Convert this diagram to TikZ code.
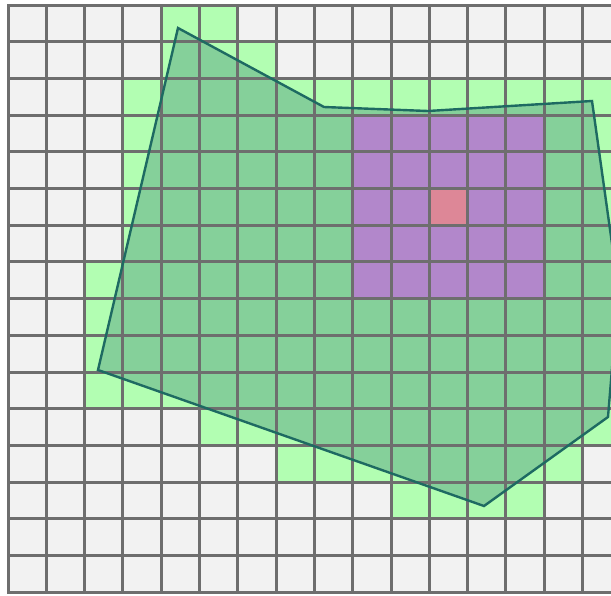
\documentclass[tikz,border=0pt]{standalone}
\definecolor{cellbg}{HTML}{F2F2F2}
\definecolor{lightg}{HTML}{B2FEB2}
\definecolor{polyfill}{HTML}{85D09A}
\definecolor{purp}{HTML}{B287CB}
\definecolor{redc}{HTML}{DD8797}
\definecolor{gridc}{HTML}{6E6E6E}
\definecolor{polyedge}{HTML}{1E6A62}
\tikzset{
  gridline/.style={draw=gridc, line width=3pt, line cap=rect},
  polyline/.style={draw=polyedge, line width=2.4pt, line join=miter},
}
\begin{document}
\begin{tikzpicture}[x=1pt,y=-1pt]
\useasboundingbox (0,0) rectangle (611,595);
\clip (0,0) rectangle (611,595);
\fill[white] (0,0) rectangle (611,595);
\def\cw{38.3}
\def\ch{36.7}
% background cells
\fill[cellbg] (8,5) rectangle ({8+16*\cw},{5+16*\ch});
% cells touched by the polygon
\foreach \r/\a/\b in {0/4/5,1/4/6,2/3/15,3/3/15,4/3/15,5/3/15,6/3/15,7/2/15,8/2/15,9/2/15,10/2/15,11/5/15,12/7/14,13/10/13}{
  \fill[lightg] ({8+\a*\cw},{5+\r*\ch}) rectangle ({8+(\b+1)*\cw},{5+(\r+1)*\ch});
}
% polygon
\coordinate (p1) at (178,28);
\coordinate (p2) at (324,107);
\coordinate (p3) at (428,111);
\coordinate (p4) at (592,101);
\coordinate (p5) at (618.5,290);
\coordinate (p6) at (608,417);
\coordinate (p7) at (484,506);
\coordinate (p8) at (98,370);
\fill[polyfill] (p1) -- (p2) -- (p3) -- (p4) -- (p5) -- (p6) -- (p7) -- (p8) -- cycle;
% purple block and centre cell
\fill[purp] ({8+9*\cw},{5+3*\ch}) rectangle ({8+14*\cw},{5+8*\ch});
\fill[redc] ({8+11*\cw},{5+5*\ch}) rectangle ({8+12*\cw},{5+6*\ch});
% grid lines
\foreach \i in {0,...,16}{
  \draw[gridline] ({8+\i*\cw},5) -- ({8+\i*\cw},{5+16*\ch});
}
\foreach \j in {0,...,16}{
  \draw[gridline] (8,{5+\j*\ch}) -- ({8+16*\cw},{5+\j*\ch});
}
% polygon outline
\draw[polyline] (p1) -- (p2) -- (p3) -- (p4) -- (p5) -- (p6) -- (p7) -- (p8) -- cycle;
\end{tikzpicture}
\end{document}
